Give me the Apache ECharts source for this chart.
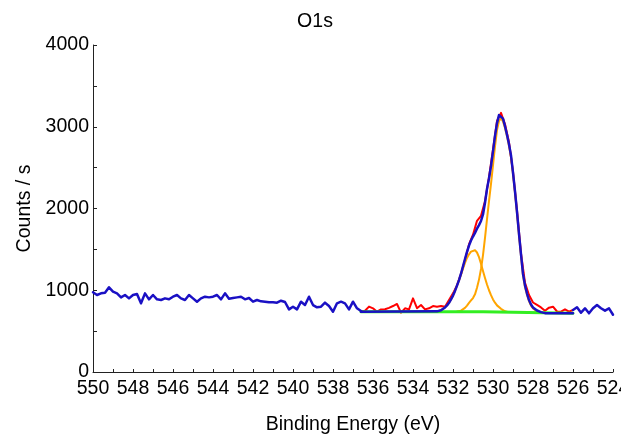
<!DOCTYPE html>
<html>
<head>
<meta charset="utf-8">
<title>O1s</title>
<script src="https://cdn.jsdelivr.net/npm/echarts@6/dist/echarts.min.js"></script>
<style>
  html, body { margin: 0; padding: 0; background: #ffffff; overflow: hidden; }
  #chart { width: 660px; height: 443px; }
</style>
</head>
<body>
<div id="chart"></div>
<script>
// Measured O1s spectrum: binding energy grid (eV) and count rate (counts / s)
const RAW_START = 550.0;
const RAW_STEP = 0.2;
const rawCounts = [
  975, 942, 962, 970, 1036, 983, 962, 913, 942, 901,
  942, 954, 840, 962, 889, 942, 889, 881, 901, 889,
  921, 942, 901, 881, 942, 901, 860, 901, 921, 913,
  921, 942, 889, 962, 897, 905, 913, 921, 889, 905,
  860, 881, 864, 860, 852, 852, 848, 872, 856, 766,
  799, 766, 860, 819, 921, 819, 791, 799, 848, 807,
  738, 840, 860, 840, 766, 860, 779, 745, 750, 800,
  779, 738, 766, 768, 785, 807, 832, 726, 779, 766,
  901, 780, 819, 766, 779, 807, 799, 807, 799, 880,
  962, 1060, 1200, 1370, 1560, 1680, 1850, 1910, 2090, 2380,
  2720, 3070, 3170, 3030, 2810, 2450, 1975, 1450, 1090, 942,
  850, 820, 790, 750, 787, 799, 740, 738, 766, 738,
  758, 791, 726, 779, 718, 779, 819, 780, 750, 779,
  700
];

// Energy window used for the peak fit
const FIT_HIGH = 536.6;
const FIT_LOW = 526.0;

// Fit envelope (sum of components on the background)
const envEnergy = [
  536.6, 532.8, 532.7, 532.6, 532.5, 532.4, 532.3, 532.2, 532.1, 532.0,
  531.9, 531.8, 531.7, 531.6, 531.5, 531.4, 531.3, 531.2, 531.1, 531.0,
  530.9, 530.8, 530.7, 530.6, 530.5, 530.4, 530.3, 530.2, 530.1, 530.0,
  529.9, 529.8, 529.7, 529.6, 529.5, 529.4, 529.3, 529.2, 529.1, 529.0,
  528.9, 528.8, 528.7, 528.6, 528.5, 528.4, 528.3, 528.2, 528.1, 528.0,
  527.9, 527.8, 527.7, 527.6, 527.5, 527.4, 526.0
];
const envCounts = [
  738, 742, 745, 756, 772, 790, 815, 846, 888, 935,
  992, 1057, 1124, 1202, 1292, 1382, 1469, 1547, 1609, 1657,
  1702, 1754, 1797, 1847, 1927, 2070, 2240, 2370, 2520, 2698,
  2888, 3045, 3142, 3160, 3100, 3007, 2903, 2785, 2650, 2440,
  2210, 1960, 1690, 1440, 1200, 1060, 960, 880, 825, 790,
  768, 752, 740, 732, 725, 720, 720
];

// Component 1: lattice oxygen, ~529.6 eV
const mainEnergy = [
  531.8, 531.7, 531.6, 531.5, 531.4, 531.3, 531.2, 531.1, 531.0, 530.9,
  530.8, 530.7, 530.6, 530.5, 530.4, 530.3, 530.2, 530.1, 530.0, 529.9,
  529.8, 529.7, 529.6, 529.5, 529.4, 529.3, 529.2, 529.1, 529.0, 528.9,
  528.8, 528.7, 528.6, 528.5, 528.4, 528.3, 528.2, 528.1, 528.0, 527.9,
  527.8, 527.7, 527.6, 527.5
];
const mainCounts = [
  740, 742, 750, 765, 785, 812, 845, 875, 905, 950,
  1030, 1130, 1260, 1430, 1640, 1870, 2090, 2300, 2530, 2760,
  2960, 3070, 3103, 3065, 2985, 2885, 2765, 2630, 2420, 2190,
  1940, 1670, 1420, 1180, 1040, 945, 868, 812, 778, 755,
  740, 731, 726, 722
];

// Component 2: surface oxygen species, ~531.0 eV
const minorEnergy = [
  532.8, 532.7, 532.6, 532.5, 532.4, 532.3, 532.2, 532.1, 532.0, 531.9,
  531.8, 531.7, 531.6, 531.5, 531.4, 531.3, 531.2, 531.1, 531.0, 530.9,
  530.8, 530.7, 530.6, 530.5, 530.4, 530.3, 530.2, 530.1, 530.0, 529.9,
  529.8, 529.7, 529.6, 529.5, 529.4, 529.3
];
const minorCounts = [
  740, 745, 756, 772, 790, 815, 846, 888, 935, 992,
  1055, 1120, 1190, 1265, 1335, 1395, 1440, 1472, 1490, 1490,
  1462, 1405, 1325, 1235, 1150, 1070, 1000, 940, 888, 848,
  815, 792, 773, 755, 742, 738
];

// Background under the fit
const bgEnergy = [536.6, 530.5, 530.4, 526.0];
const bgCounts = [738, 738, 720, 720];

// Axis ticks
const xTickMin = 524, xTickMax = 550, xTickStep = 2;
const yTickMin = 0, yTickMax = 4000, yTickStep = 1000;

const zip = (xs, ys) => xs.map((x, i) => [x, ys[i]]);
const rawEnergy = rawCounts.map((_, i) => +(RAW_START - i * RAW_STEP).toFixed(1));
const inFit = e => e <= FIT_HIGH + 1e-6 && e >= FIT_LOW - 1e-6;
const onFitEdge = e => Math.abs(e - FIT_HIGH) < 1e-6 || Math.abs(e - FIT_LOW) < 1e-6;

const fitData = rawEnergy.filter(inFit).map(e => [e, rawCounts[rawEnergy.indexOf(e)]]);
const outsideData = rawEnergy.map((e, i) =>
  (!inFit(e) || onFitEdge(e)) ? [e, rawCounts[i]] : [e, '-']);

const FONT = 'Liberation Sans, Arial, sans-serif';
const FS = 19.5;
const BLUE = '#1a10c4';

const line = (name, data, color, width, z) => ({
  name, type: 'line', data, z,
  symbol: 'none', smooth: false, silent: true,
  lineStyle: { color, width, join: 'round', cap: 'round' },
  animation: false
});

const chart = echarts.init(document.getElementById('chart'), null, { renderer: 'canvas' });
chart.setOption({
  backgroundColor: '#ffffff',
  animation: false,
  title: {
    text: 'O1s', left: 310, top: 7, textAlign: 'center',
    textStyle: { fontFamily: FONT, fontSize: FS, fontWeight: 'normal', color: '#000' }
  },
  grid: { left: 93, right: 47, top: 45, bottom: 71, containLabel: false },
  xAxis: {
    type: 'value', inverse: true,
    min: xTickMin, max: xTickMax, interval: xTickStep,
    name: 'Binding Energy (eV)', nameLocation: 'middle', nameGap: 43,
    nameTextStyle: { fontFamily: FONT, fontSize: FS, color: '#000' },
    axisLine: { show: true, onZero: false, lineStyle: { color: '#222', width: 1 } },
    axisTick: { show: true, inside: true, length: 3, lineStyle: { color: '#222' } },
    minorTick: { show: true, splitNumber: 2, length: 3, lineStyle: { color: '#222' } },
    axisLabel: { fontFamily: FONT, fontSize: FS, color: '#000', margin: 7,
                 showMinLabel: true, showMaxLabel: true, hideOverlap: false },
    splitLine: { show: false }
  },
  yAxis: {
    type: 'value',
    min: yTickMin, max: yTickMax, interval: yTickStep,
    name: 'Counts / s', nameLocation: 'middle', nameGap: 53, nameRotate: 90,
    nameTextStyle: { fontFamily: FONT, fontSize: FS, color: '#000' },
    axisLine: { show: true, lineStyle: { color: '#222', width: 1 } },
    axisTick: { show: true, inside: true, length: 4, lineStyle: { color: '#222' } },
    minorTick: { show: true, splitNumber: 2, length: 4, lineStyle: { color: '#222' } },
    axisLabel: { fontFamily: FONT, fontSize: FS, color: '#000', margin: 4,
                 formatter: v => String(v) },
    splitLine: { show: false }
  },
  series: [
    line('Measured (fit window)', fitData, '#ff0000', 2, 2),
    line('Component 529.6 eV', zip(mainEnergy, mainCounts), '#ffa500', 2, 3),
    line('Component 531.0 eV', zip(minorEnergy, minorCounts), '#ffa500', 2, 3),
    line('Background', zip(bgEnergy, bgCounts), '#33ee22', 3, 4),
    line('Envelope', zip(envEnergy, envCounts), BLUE, 2.5, 5),
    Object.assign(line('Measured', outsideData, BLUE, 2.5, 5), { connectNulls: false })
  ]
});
</script>
</body>
</html>
